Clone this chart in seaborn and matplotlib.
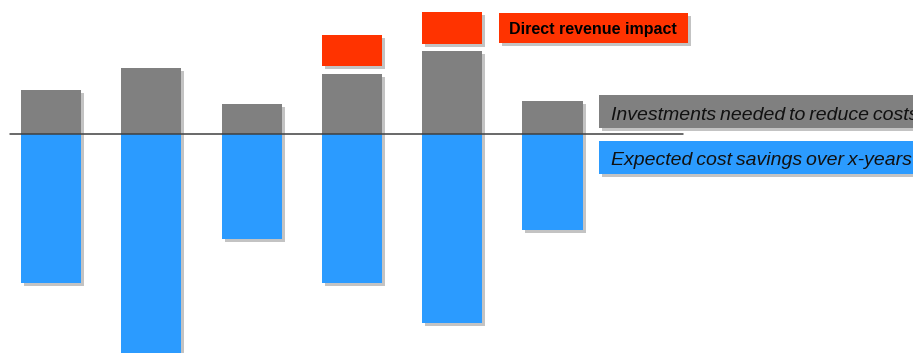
import numpy as np
import pandas as pd
import seaborn as sns
import matplotlib
matplotlib.use("Agg")
import matplotlib.pyplot as plt
from matplotlib import patheffects as pe
from matplotlib.patches import Rectangle

# ---- data ----
projects = ["P1", "P2", "P3", "P4", "P5", "P6"]
investments = [44, 66, 30, 60, 83, 33]          # grey, above baseline
savings = [-149, -225, -105, -149, -189, -96]   # blue, below baseline
revenue_bottom = [np.nan, np.nan, np.nan, 68, 90, np.nan]   # red floating boxes
revenue_top = [np.nan, np.nan, np.nan, 99, 122, np.nan]

label_revenue = "Direct revenue impact"
label_invest = "Investments needed to reduce costs"
label_savings = "Expected cost savings over x-years"

GREY = "#808080"
BLUE = "#2B9BFF"
RED = "#FF3300"

sns.set_theme(style="white")
plt.rcParams["font.family"] = ["Liberation Sans", "DejaVu Sans"]

W, H = 913, 353
fig = plt.figure(figsize=(W / 100, H / 100), dpi=100)
ax = fig.add_axes([0, 0, 1, 1])

df = pd.DataFrame({"project": projects, "inv": investments, "sav": savings})
sns.barplot(data=df, x="project", y="inv", color=GREY, saturation=1, width=0.6, ax=ax)
sns.barplot(data=df, x="project", y="sav", color=BLUE, saturation=1, width=0.6, ax=ax)

xpos = np.arange(len(projects))
rb = np.array(revenue_bottom, dtype=float)
rt = np.array(revenue_top, dtype=float)
mask = ~np.isnan(rb)
ax.bar(xpos[mask], (rt - rb)[mask], bottom=rb[mask], width=0.6, color=RED, linewidth=0)

shadow = [pe.SimplePatchShadow(offset=(2.2, -2.2), shadow_rgbFace="#7a7a7a", alpha=0.45), pe.Normal()]
for p in ax.patches:
    p.set_linewidth(0)
    p.set_path_effects(shadow)

# layout: 1 unit y = 1 pixel, category spacing ~100.3 px, first centre at 51 px
sp = 100.3
ax.set_xlim(-51 / sp, (W - 51) / sp)
ax.set_ylim(-(H - 134), 134)
ax.axis("off")

ax.axhline(0, xmin=10 / W, xmax=683 / W, color="#404040", lw=1.1, zorder=5)

def fbox(x0, y0, x1, y1, color):
    r = Rectangle((x0 / W, 1 - y1 / H), (x1 - x0) / W, (y1 - y0) / H,
                  transform=fig.transFigure, facecolor=color, edgecolor="none",
                  path_effects=shadow, zorder=3)
    fig.add_artist(r)

def tight(s):
    return s.replace(" ", "\u2009")

fbox(499, 13, 688, 43, RED)
fig.text(509 / W, 1 - 34 / H, label_revenue, fontsize=11.5, fontweight="bold",
         color="black", va="baseline", ha="left", zorder=4)

fbox(599, 95, 930, 128, GREY)
fig.text(611 / W, 1 - 120 / H, tight(label_invest), fontsize=14, fontstyle="italic",
         color="#111111", va="baseline", ha="left", zorder=4)

fbox(599, 141, 930, 174, BLUE)
fig.text(611 / W, 1 - 165 / H, tight(label_savings), fontsize=14, fontstyle="italic",
         color="#111111", va="baseline", ha="left", zorder=4)

fig.savefig("out.png", dpi=100)
